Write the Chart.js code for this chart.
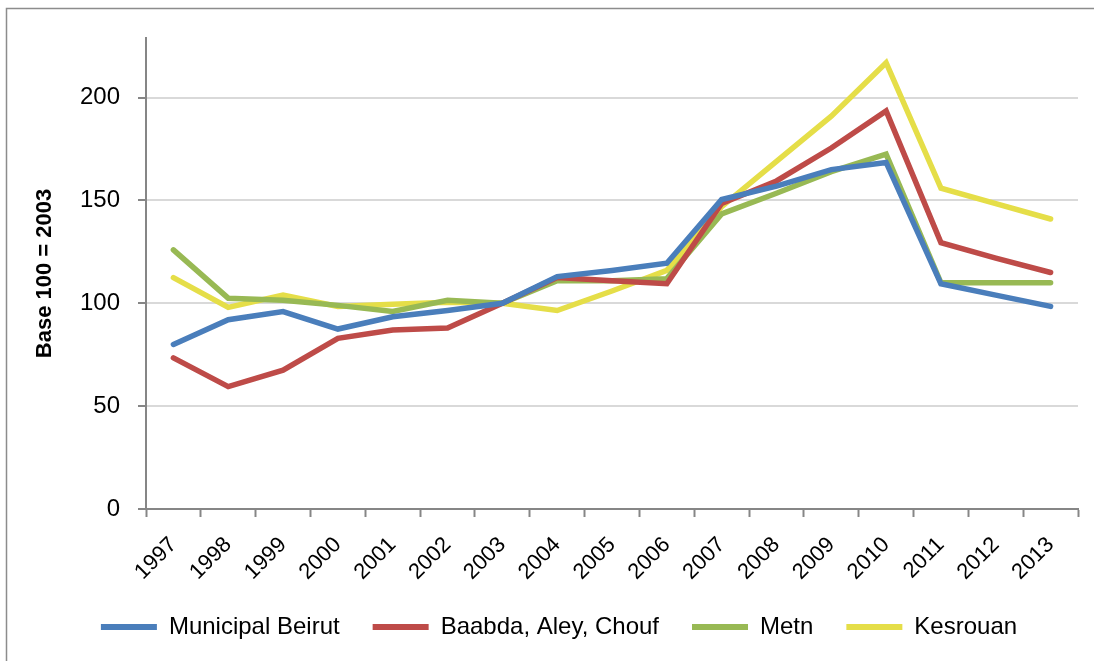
<!DOCTYPE html>
<html>
<head>
<meta charset="utf-8">
<script src="https://cdn.jsdelivr.net/npm/chart.js@4.4.1/dist/chart.umd.min.js"></script>
<style>
  html, body { margin: 0; padding: 0; background: #fff; }
  #wrap { width: 1094px; height: 661px; }
</style>
</head>
<body>
<div id="wrap"><canvas id="chartarea" width="1094" height="661"></canvas></div>
<script>
// index values, base 100 = 2003
var years = ['1997', '1998', '1999', '2000', '2001', '2002', '2003', '2004', '2005',
             '2006', '2007', '2008', '2009', '2010', '2011', '2012', '2013'];

var beirut   = [80, 92, 96, 87.5, 93.5, 96.5, 100, 113, 116, 119.5, 150.5, 157, 165, 168.5, 109.5, 104, 98.5];
var baabda   = [73.5, 59.5, 67.5, 83, 87, 88, 100, 112.5, 111, 109.5, 148.5, 159.5, 175.5, 193.5, 129.5, 122, 115];
var metn     = [126, 102.5, 101.5, 99, 96, 101.5, 100, 111, 111, 112, 143.5, 153.5, 164, 172.5, 110, 110, 110];
var kesrouan = [112.5, 98, 104, 98.5, 99.5, 100.5, 100, 96.5, 106, 116, 147, 169, 191, 217, 156, 148.5, 141];

var names  = ['Municipal Beirut', 'Baabda, Aley, Chouf', 'Metn', 'Kesrouan'];
var colors = ['#4A7EBB', '#BE4B48', '#98B954', '#E5DE48'];

var FONT = "'Liberation Sans', Arial, sans-serif";
var axisGray = '#868686';

// light frame round the chart (left + top only show in the reference)
var framePlugin = {
    id: 'frame',
    afterLayout: function (chart) {
        // legend sits a bit right of centre in the original
        chart.legend.left += 20;
        chart.legend.right += 20;
    },
    beforeDraw: function (chart) {
        var c = chart.ctx;
        c.save();
        c.strokeStyle = '#8C8C8C';
        c.lineWidth = 1.5;
        c.beginPath();
        c.moveTo(6.5, 661);
        c.lineTo(6.5, 8.5);
        c.lineTo(1094, 8.5);
        c.stroke();
        c.restore();
    }
};

var ctx = document.getElementById('chartarea');

var series = [beirut, baabda, metn, kesrouan];
var datasets = series.map(function (vals, i) {
    return {
        label: names[i],
        data: vals,
        borderColor: colors[i],
        backgroundColor: colors[i],
        borderWidth: 5.5,
        pointRadius: 0,
        tension: 0,
        borderCapStyle: 'round',
        borderJoinStyle: 'miter'
    };
});

new Chart(ctx, {
    type: 'line',
    data: { labels: years, datasets: datasets },
    options: {
        animation: false,
        responsive: false,
        devicePixelRatio: 1,
        layout: { padding: { top: 38, right: 16, left: 0, bottom: 12 } },
        plugins: {
            tooltip: { enabled: false },
            legend: {
                position: 'bottom',
                labels: {
                    boxWidth: 56,
                    boxHeight: 6,
                    padding: 33,
                    color: '#000',
                    font: { family: FONT, size: 24 },
                    generateLabels: function (chart) {
                        return chart.data.datasets.map(function (ds, i) {
                            return {
                                text: ds.label,
                                fillStyle: ds.borderColor,
                                strokeStyle: ds.borderColor,
                                lineWidth: 0,
                                datasetIndex: i
                            };
                        });
                    }
                }
            }
        },
        scales: {
            x: {
                offset: true,
                grid: {
                    offset: true,
                    drawOnChartArea: false,
                    drawTicks: true,
                    tickLength: 8,
                    tickColor: axisGray,
                    tickWidth: 2
                },
                border: { color: axisGray, width: 2 },
                ticks: {
                    color: '#000',
                    font: { family: FONT, size: 22 },
                    minRotation: 45,
                    maxRotation: 45,
                    autoSkip: false,
                    padding: 15
                },
                afterFit: function (scale) { scale.height = 73; }
            },
            y: {
                min: 0,
                max: 229,
                ticks: {
                    stepSize: 50,
                    color: '#000',
                    font: { family: FONT, size: 24 },
                    padding: 18
                },
                afterBuildTicks: function (scale) {
                    scale.ticks = scale.ticks.filter(function (t) { return t.value % 50 === 0; });
                },
                grid: {
                    color: '#D9D9D9',
                    lineWidth: 2,
                    tickLength: 8,
                    tickColor: axisGray,
                    tickWidth: 2
                },
                border: { color: axisGray, width: 2 },
                title: {
                    display: true,
                    text: 'Base 100 = 2003',
                    color: '#000',
                    font: { family: FONT, size: 22, weight: 'bold' },
                    padding: { top: 32, bottom: 0 }
                },
                afterFit: function (scale) { scale.width = 146; }
            }
        }
    },
    plugins: [framePlugin]
});
</script>
</body>
</html>
